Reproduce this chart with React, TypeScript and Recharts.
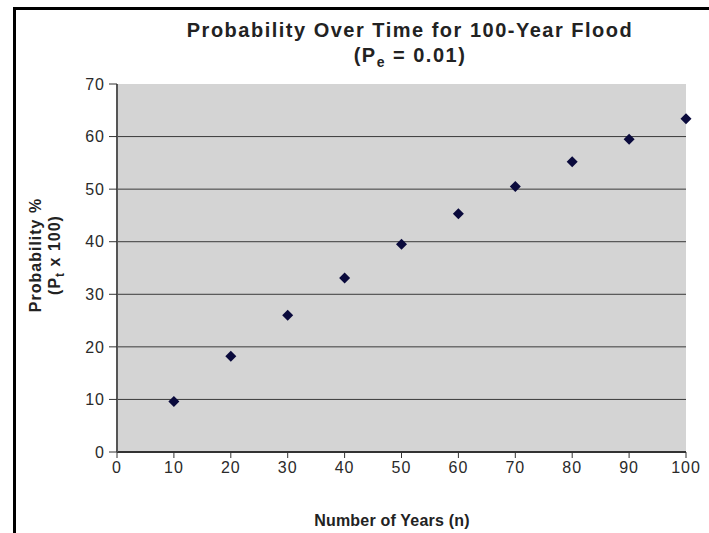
import React from "react";
import { ScatterChart, Scatter, XAxis, YAxis, CartesianGrid } from "recharts";

const years = [10, 20, 30, 40, 50, 60, 70, 80, 90, 100];
const probability = [9.6, 18.2, 26.0, 33.1, 39.5, 45.3, 50.5, 55.2, 59.5, 63.4];
const xTicks = [0, 10, 20, 30, 40, 50, 60, 70, 80, 90, 100];
const yTicks = [0, 10, 20, 30, 40, 50, 60, 70];

const data = years.map((n, i) => ({ n, p: probability[i] }));

const FONT = "'Liberation Sans', Arial, sans-serif";

const Diamond = (props: any) => {
  const { cx, cy } = props;
  const r = 5.5;
  return (
    <polygon
      points={`${cx},${cy - r} ${cx + r},${cy} ${cx},${cy + r} ${cx - r},${cy}`}
      fill="#0a0a3c"
    />
  );
};

const tickStyle = { fill: "#2a2a2a", fontSize: 16, fontFamily: FONT, letterSpacing: 1 };

export default function App() {
  return (
    <div style={{ position: "absolute", left: 0, top: 0, width: 709, height: 533, background: "#fff" }}>
      <div
        style={{
          position: "absolute",
          left: 13,
          top: 7,
          width: 709,
          height: 540,
          borderLeft: "3px solid #000",
          borderTop: "3px solid #000",
        }}
      />
      <div style={{ position: "absolute", left: 0, top: 0 }}>
        <ScatterChart width={709} height={533} margin={{ top: 84, right: 23, bottom: 51, left: 57 }}>
          <CartesianGrid
            fill="#d4d4d4"
            stroke="#3a3a3a"
            strokeWidth={1}
            vertical={false}
            horizontalValues={[10, 20, 30, 40, 50, 60]}
          />
          <XAxis
            xAxisId="top"
            orientation="top"
            type="number"
            dataKey="n"
            domain={[0, 100]}
            height={0}
            tick={false}
            tickLine={false}
            axisLine={{ stroke: "#555", strokeWidth: 2 }}
          />
          <YAxis
            yAxisId="right"
            orientation="right"
            type="number"
            dataKey="p"
            domain={[0, 70]}
            width={0}
            tick={false}
            tickLine={false}
            axisLine={{ stroke: "#555", strokeWidth: 2 }}
          />
          <XAxis
            type="number"
            dataKey="n"
            domain={[0, 100]}
            ticks={xTicks}
            interval={0}
            height={30}
            tickSize={6}
            tickMargin={4}
            axisLine={{ stroke: "#333", strokeWidth: 2 }}
            tickLine={{ stroke: "#333" }}
            tick={tickStyle}
          />
          <YAxis
            type="number"
            dataKey="p"
            domain={[0, 70]}
            ticks={yTicks}
            interval={0}
            width={60}
            tickSize={8}
            tickMargin={4}
            axisLine={{ stroke: "#555", strokeWidth: 2 }}
            tickLine={{ stroke: "#333" }}
            tick={tickStyle}
          />
          <Scatter data={data} shape={<Diamond />} isAnimationActive={false} />
        </ScatterChart>
      </div>
      <svg
        width={709}
        height={533}
        style={{ position: "absolute", left: 0, top: 0, pointerEvents: "none" }}
        fontFamily={FONT}
      >
        <text x={410} y={37} textAnchor="middle" fontSize={20} fontWeight="bold" fill="#222" letterSpacing={1.5}>
          Probability Over Time for 100-Year Flood
        </text>
        <text x={410} y={62} textAnchor="middle" fontSize={20} fontWeight="bold" fill="#222" letterSpacing={1.5}>
          (P<tspan fontSize={14} dy={5}>e</tspan>
          <tspan dy={-5}> = 0.01)</tspan>
        </text>
        <text x={392} y={526} textAnchor="middle" fontSize={16} fontWeight="bold" fill="#222" letterSpacing={0.2}>
          Number of Years (n)
        </text>
        <g transform="translate(41,255) rotate(-90)">
          <text x={0} y={0} textAnchor="middle" fontSize={16} fontWeight="bold" fill="#222" letterSpacing={1}>
            Probability %
          </text>
          <text x={0} y={19} textAnchor="middle" fontSize={16} fontWeight="bold" fill="#222" letterSpacing={1}>
            (P<tspan fontSize={12} dy={4}>t</tspan>
            <tspan dy={-4}> x 100)</tspan>
          </text>
        </g>
      </svg>
    </div>
  );
}
